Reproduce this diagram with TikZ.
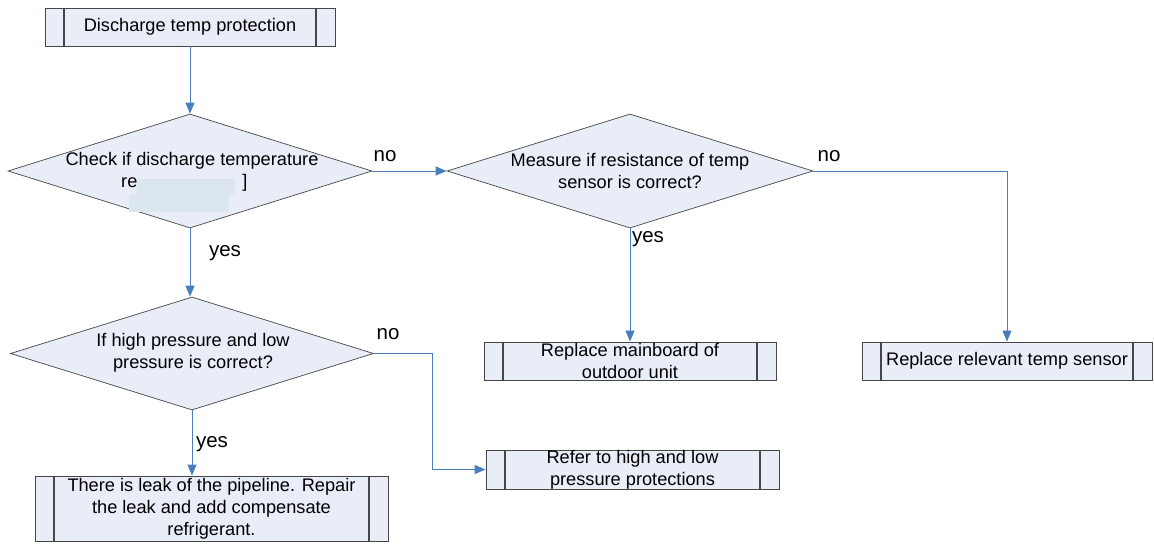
\documentclass[tikz,border=0pt]{standalone}
\usepackage{fontspec}
\setmainfont{Liberation Sans}
\usetikzlibrary{shapes.geometric,arrows.meta}
\definecolor{boxfill}{RGB}{232,237,247}
\definecolor{boxline}{RGB}{70,70,70}
\definecolor{arrowblue}{RGB}{74,126,187}
\definecolor{coverc}{RGB}{220,230,238}
\tikzset{
  procbox/.style={draw=boxline, fill=boxfill, line width=0.9pt, inner sep=0pt,
    minimum width=#1, minimum height=38pt, align=center,
    font=\fontsize{18.2}{22}\selectfont,
    path picture={
      \draw[boxline, line width=1.3pt] ([xshift=19pt]path picture bounding box.north west) -- ([xshift=19pt]path picture bounding box.south west);
      \draw[boxline, line width=1.3pt] ([xshift=-19pt]path picture bounding box.north east) -- ([xshift=-19pt]path picture bounding box.south east);
    }},
  decision/.style={diamond, draw=boxline, fill=boxfill, line width=0.7pt, inner sep=0pt,
    minimum width=364pt, minimum height=114pt},
  dtext/.style={align=center, inner sep=0pt, font=\fontsize{18.2}{22}\selectfont},
  flow/.style={draw=arrowblue, line width=0.9pt, -{Triangle[length=11pt,width=9pt]}},
  lbl/.style={inner sep=0pt, font=\fontsize{20.5}{24}\selectfont},
}
\begin{document}
\begin{tikzpicture}[x=1pt,y=-1pt]
\useasboundingbox (0,0) rectangle (1154,545);

% boxes
\node[procbox=290pt] (start) at (190,27) {Discharge temp protection};
\node[procbox=292pt] (mainb) at (630,361) {Replace mainboard of\\outdoor unit};
\node[procbox=290pt] (sensor) at (1007,361) {Replace relevant temp sensor};
\node[procbox=293pt, minimum height=39pt] (refer) at (632.5,469.5) {Refer to high and low\\pressure protections};
\node[procbox=353pt, minimum height=65pt] (leak) at (211.5,508.5) {There is leak of the pipeline. Repair\\the leak and add compensate\\refrigerant.};

% decisions
\node[decision] (d1) at (190,171) {};
\node[decision, minimum width=366pt] (d2) at (630,171) {};
\node[decision, minimum width=363pt, minimum height=113pt] (d3) at (192,353.5) {};

% decision texts
\node[dtext] (d1t) at (192,161) {Check if discharge temperature};
\node[dtext, anchor=base west] (d1r) at (121,188) {re};
\node[dtext, anchor=base] (d1b) at (245,188) {]};
\fill[coverc] (137,179) rectangle (235,195);
\fill[coverc] (129,195) rectangle (229,212);
\node[dtext] (d2t) at (d2) {Measure if resistance of temp\\sensor is correct?};
\node[dtext] (d3t) at (193,353) {If high pressure and low\\pressure is correct?};

% connectors
\draw[flow] (start.south) -- (d1.north);
\draw[flow] (d1.east) -- (d2.west);
\draw[flow] (d2.east) -| (sensor.north);
\draw[flow] (d2.south) -- (mainb.north);
\draw[flow] (d1.south) -- (d1.south |- d3.north);
\coordinate (bend) at (432,353.5);
\draw[flow] (d3.east) -- (bend) |- (refer.west);
\draw[flow] (d3.south) -- (d3.south |- leak.north);

% labels
\node[lbl] (n1) at (385,156) {no};
\node[lbl] (n2) at (829,156) {no};
\node[lbl] (n3) at (388,334) {no};
\node[lbl] (y1) at (225,253) {yes};
\node[lbl] (y2) at (648,239) {yes};
\node[lbl] (y3) at (212,444) {yes};
\end{tikzpicture}
\end{document}
